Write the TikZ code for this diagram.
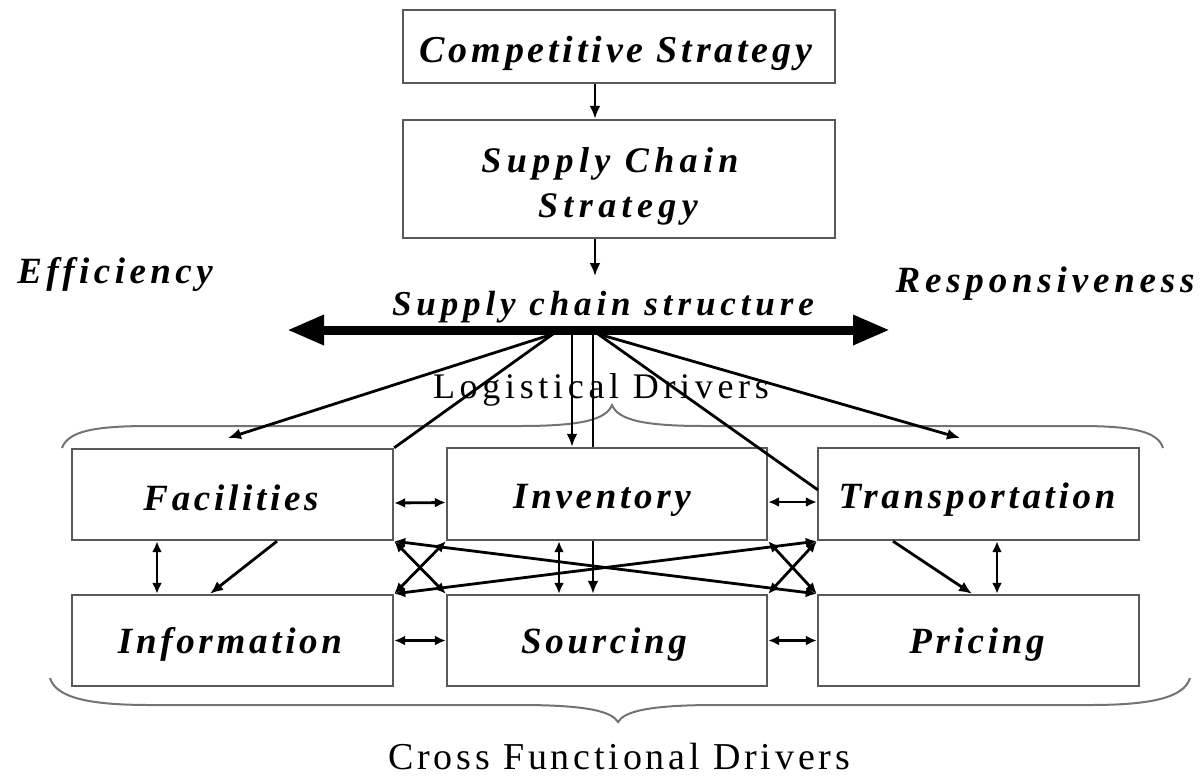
\documentclass[tikz,border=0pt]{standalone}
\usepackage{fontspec}
\setmainfont{Liberation Serif}
\usetikzlibrary{arrows.meta}
\newcommand{\lsp}[2]{{\addfontfeatures{LetterSpace=#1}#2}}
\begin{document}
\begin{tikzpicture}[x=1pt,y=-1pt,
  box/.style={draw=black!65, line width=2.4pt, fill=white, inner sep=0pt},
  bt/.style={font=\fontsize{37}{40}\selectfont\bfseries\itshape, anchor=base, inner sep=0pt},
  rt/.style={font=\fontsize{37}{40}\selectfont, anchor=base, inner sep=0pt},
  conn/.style={line width=2.8pt, -{Latex[length=13pt,width=11pt]}},
  dbl/.style={line width=2.8pt, {Latex[length=11pt,width=10pt]}-{Latex[length=11pt,width=10pt]}},
  plain/.style={line width=2.8pt},
  brace/.style={draw=black!55, line width=2pt},
  thick arrow/.style={line width=9pt, {Triangle[length=37pt,width=28pt]}-{Triangle[length=37pt,width=28pt]}}]
\path[use as bounding box] (0,0) rectangle (1201,777);

% boxes
\node[box, minimum width=432pt, minimum height=73pt] (comp) at (619,46.5) {};
\node[box, minimum width=432pt, minimum height=118pt] (scs) at (619,179) {};
\node[box, minimum width=321pt, minimum height=91pt] (fac) at (232.5,494.5) {};
\node[box, minimum width=321pt, minimum height=91pt] (inf) at (232.5,640.5) {};
\node[box, minimum width=320pt, minimum height=92pt] (inv) at (607,494) {};
\node[box, minimum width=320pt, minimum height=91pt] (sou) at (607,640.5) {};
\node[box, minimum width=321pt, minimum height=92pt] (tra) at (978.5,494) {};
\node[box, minimum width=321pt, minimum height=91pt] (pri) at (978.5,640.5) {};

% texts
\node[bt, font=\fontsize{38}{40}\selectfont\bfseries\itshape] (compT) at (616,62) {\lsp{10}{Competitive Strategy}};
\node[bt, font=\fontsize{36}{40}\selectfont\bfseries\itshape] (scsT1) at (610,172) {\lsp{15}{Supply Chain}};
\node[bt, font=\fontsize{36}{40}\selectfont\bfseries\itshape] (scsT2) at (618,217) {\lsp{15}{Strategy}};
\node[bt] (eff) at (115,283) {\lsp{12}{Efficiency}};
\node[bt] (resp) at (1045,292) {\lsp{13}{Responsiveness}};
\node[bt, font=\fontsize{35}{40}\selectfont\bfseries\itshape] (scstr) at (603,315) {\lsp{14}{Supply chain structure}};
\node[rt, font=\fontsize{36}{40}\selectfont] (logd) at (601,398) {\lsp{13}{Logistical Drivers}};
\node[rt, font=\fontsize{38}{40}\selectfont] (cfd) at (619,769) {\lsp{10}{Cross Functional Drivers}};
\node[bt] (facT) at (231,510) {\lsp{10}{Facilities}};
\node[bt] (infT) at (230,653) {\lsp{10}{Information}};
\node[bt] (invT) at (602,508) {\lsp{10}{Inventory}};
\node[bt] (souT) at (604,653) {\lsp{10}{Sourcing}};
\node[bt] (traT) at (977,508) {\lsp{10}{Transportation}};
\node[bt] (priT) at (977,653) {\lsp{10}{Pricing}};

% braces
\draw[brace] (62,448) .. controls (68,431) and (95,426) .. (150,426) -- (520,426)
  .. controls (580,426) and (606,420) .. (612,405)
  .. controls (618,420) and (644,426) .. (704,426) -- (1080,426)
  .. controls (1135,426) and (1158,432) .. (1163,448);
\draw[brace] (50,678) .. controls (56,698) and (90,705) .. (150,705) -- (520,705)
  .. controls (590,705) and (612,712) .. (618,722)
  .. controls (624,712) and (646,705) .. (716,705) -- (1090,705)
  .. controls (1150,705) and (1184,698) .. (1190,678);

% top arrows
\draw[conn] ([xshift=-24pt]comp.south) -- ([xshift=-24pt]scs.north);
\coordinate (sctip) at (595,276);
\draw[conn] ([xshift=-24pt]scs.south) -- (sctip);

% thick double arrow
\coordinate (tl) at (287,330);
\coordinate (tr) at (890,330);
\draw[thick arrow] (tl) -- (tr);

% fan
\coordinate (o1) at (553,334);
\coordinate (o2) at (572,334);
\coordinate (o3) at (593,334);
\coordinate (o4) at (598,334);
\coordinate (facIn) at (228,438);
\coordinate (traIn) at (960,438);
\coordinate (traSide) at (818,490);
\draw[conn] (o1) -- (facIn);
\draw[plain] (o1) -- (fac.north east);
\draw[conn] (o2) -- (o2 |- inv.north);
\draw[plain] (o3) -- (o3 |- inv.north);
\draw[conn] (o3 |- inv.south) -- (o3 |- sou.north);
\draw[plain] (o4) -- (traSide);
\draw[conn] (o4) -- (traIn);

% horizontal double arrows
\draw[dbl] ([yshift=-8.5pt]fac.east) -- ([yshift=-8.5pt]inv.west);
\draw[dbl] ([yshift=-8pt]inv.east) -- ([yshift=-8pt]tra.west);
\draw[dbl] (inf.east) -- (sou.west);
\draw[dbl] (sou.east) -- (pri.west);

% vertical double arrows
\draw[dbl] ([xshift=-75.5pt]fac.south) -- ([xshift=-75.5pt]inf.north);
\draw[dbl] ([xshift=-48pt]inv.south) -- ([xshift=-48pt]sou.north);
\draw[dbl] ([xshift=18.5pt]tra.south) -- ([xshift=18.5pt]pri.north);

% diagonal arrows
\draw[conn] ([xshift=44.5pt]fac.south) -- ([xshift=-22.5pt]inf.north);
\draw[conn] ([xshift=-85.5pt]tra.south) -- ([xshift=-6.5pt]pri.north);

% crossing arrows
\draw[dbl] (fac.south east) -- (pri.north west);
\draw[dbl] (inf.north east) -- (tra.south west);
\draw[dbl] (fac.south east) -- (sou.north west);
\draw[dbl] (inf.north east) -- (inv.south west);
\draw[dbl] (inv.south east) -- (pri.north west);
\draw[dbl] (sou.north east) -- (tra.south west);
\end{tikzpicture}
\end{document}
